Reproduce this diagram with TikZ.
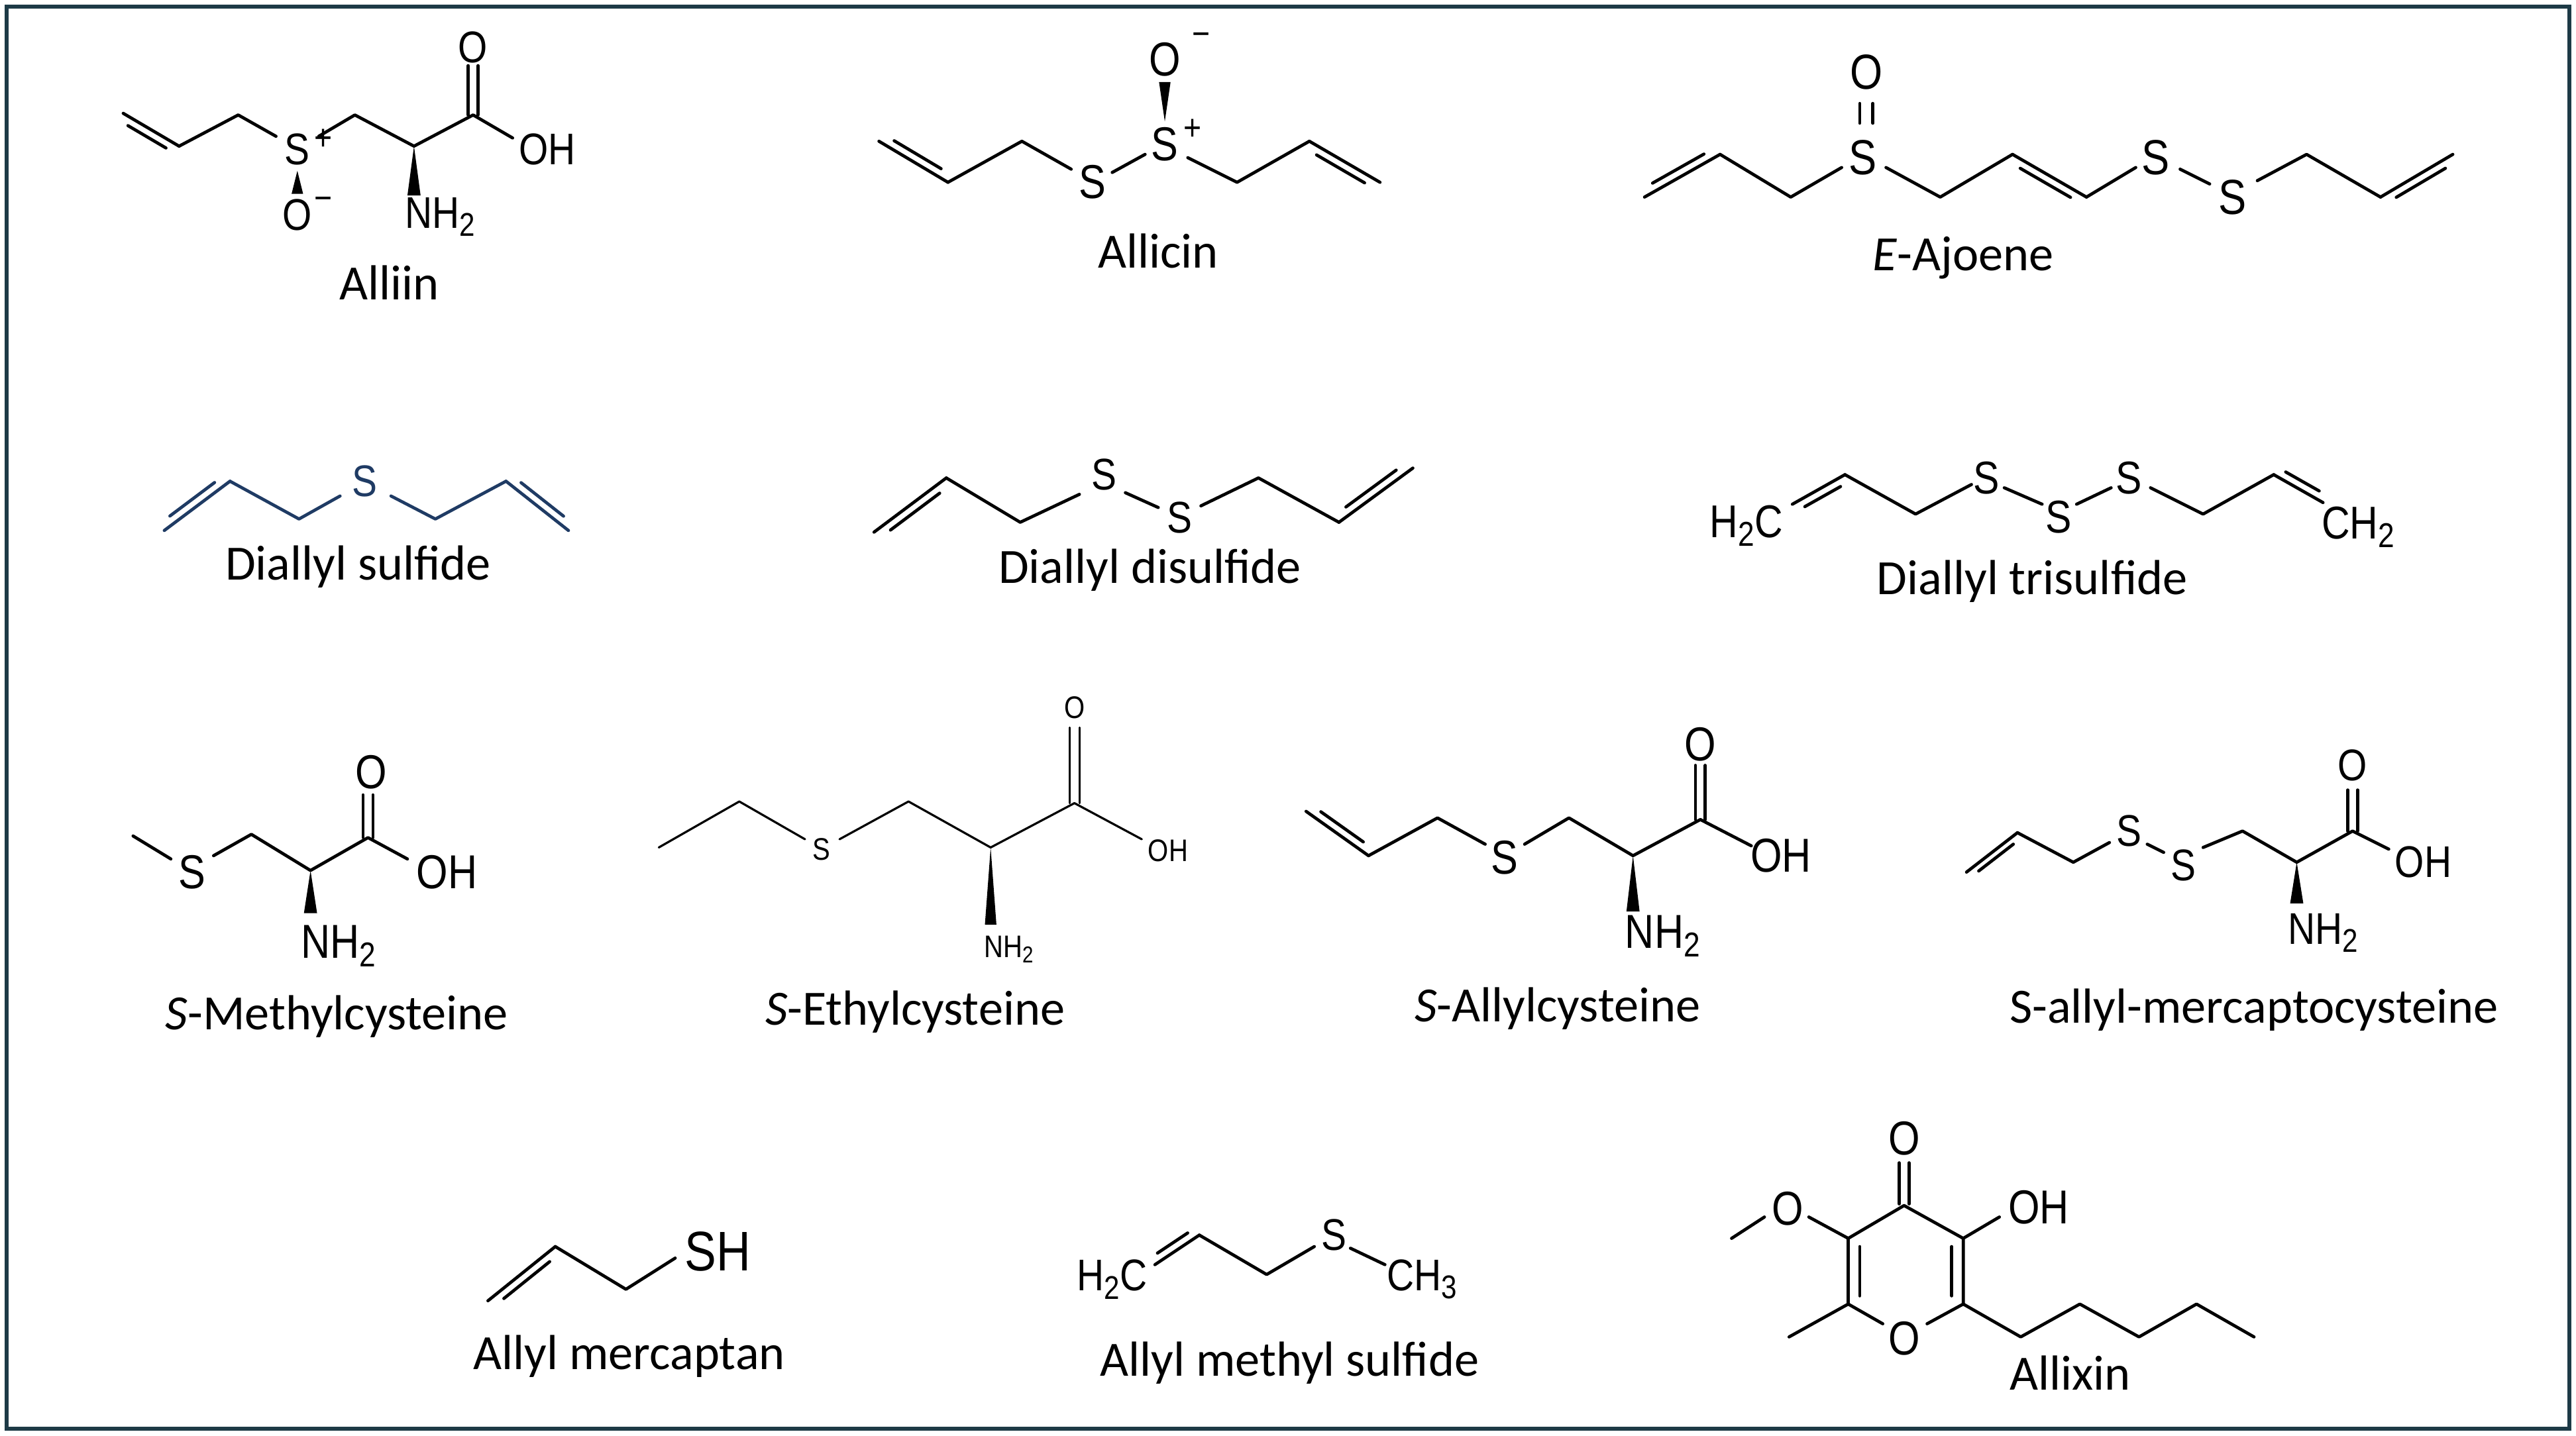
\documentclass[tikz,border=0pt]{standalone}
\usepackage{fontspec}
\setmainfont{Carlito}
\newfontfamily\atomf[FakeStretch=0.85]{Liberation Sans}
\usetikzlibrary{calc}
\definecolor{frame}{HTML}{1D3A46}
\definecolor{dsblue}{HTML}{1F3B64}
\newcommand\A[1]{\atomf\fontsize{#1}{#1}\selectfont}
\newcommand\dbl[3]{\draw[bond] #1 -- #2; \draw[bond] ($#1!0.16!#2!#3!90:#2$) -- ($#2!0.16!#1!#3!-90:#1$);}
\newcommand\wdg[4]{\fill (#1,#2) -- (#1-#4,#3) -- (#1+#4,#3) -- cycle;}
\begin{document}
\begin{tikzpicture}[x=1pt,y=-1pt,
  bond/.style={line width=1.9pt,line cap=round,line join=round},
  atom/.style={inner sep=0pt,anchor=center},
  lab/.style={inner sep=0pt,anchor=center,font=\fontsize{30}{30}\selectfont}]
\useasboundingbox (0,0) rectangle (1568,874);
\fill[white] (0,0) rectangle (1568,874);
\draw[frame,line width=2.5pt] (4,4) rectangle (1564,870);

% ---------- Alliin
\dbl{(75,69)}{(109,89)}{-5pt}
\draw[bond] (109,89) -- (145,70) -- (168,83);
\draw[bond] (194,83) -- (216,70) -- (252,89) -- (288,70) -- (312,84);
\draw[bond] (285,70) -- (285,40); \draw[bond] (291,70) -- (291,40);
\node[atom] (al-S) at (181,91) {\A{27}S};
\node[atom] (al-p) at (197,85) {\A{22}+};
\wdg{181}{104}{118}{3.5}
\node[atom] (al-O) at (181,131) {\A{27}O};
\node[atom] (al-m) at (197,124) {\A{22}−};
\node[atom] (al-O2) at (288,29) {\A{27}O};
\node[atom] (al-OH) at (333,91) {\A{27}OH};
\wdg{252}{89}{119}{4}
\node[atom] (al-N) at (268,132) {\A{27}NH\raisebox{-0.35ex}{\fontsize{20}{20}\selectfont 2}};
\node[lab] (l-alliin) at (237,172) {Alliin};

% ---------- Allicin
\dbl{(535,86)}{(577,111)}{5pt}
\draw[bond] (577,111) -- (622,86) -- (652,103);
\node[atom] (ac-S1) at (665,111) {\A{29}S};
\draw[bond] (677,105) -- (697,94);
\node[atom] (ac-S2) at (709,88) {\A{29}S};
\node[atom] (ac-p) at (726,79) {\A{22}+};
\wdg{709}{74}{50}{-3.5}
\node[atom] (ac-O) at (709,36) {\A{29}O};
\node[atom] (ac-m) at (731,24) {\A{22}−};
\draw[bond] (723,96) -- (753,111) -- (797,86);
\dbl{(797,86)}{(840,111)}{-5pt}
\node[lab] (l-allicin) at (705,153) {Allicin};

% ---------- E-Ajoene
\dbl{(1001,120)}{(1047,94)}{5pt}
\draw[bond] (1047,94) -- (1090,120) -- (1121,102);
\node[atom] (aj-S1) at (1134,96) {\A{30}S};
\draw[bond] (1132,63) -- (1132,75); \draw[bond] (1140,63) -- (1140,75);
\node[atom] (aj-O) at (1136,44) {\A{30}O};
\draw[bond] (1148,102) -- (1181,120) -- (1225,94);
\dbl{(1225,94)}{(1270,120)}{-5pt}
\draw[bond] (1270,120) -- (1300,102);
\node[atom] (aj-S2) at (1312,96) {\A{30}S};
\draw[bond] (1327,103) -- (1345,112);
\node[atom] (aj-S3) at (1359,120) {\A{30}S};
\draw[bond] (1374,110) -- (1404,94) -- (1449,120);
\dbl{(1449,120)}{(1493,94)}{-5pt}
\node[lab] (l-ajoene) at (1195,157) {\textit{E}-Ajoene};

% ---------- Diallyl sulfide (blue)
\begin{scope}[dsblue]
\dbl{(100,323)}{(140,293)}{5pt}
\draw[bond] (140,293) -- (182,316) -- (207,302);
\node[atom] (ds-S) at (222,293) {\A{27}S};
\draw[bond] (238,302) -- (265,316) -- (308,293);
\dbl{(308,293)}{(346,323)}{5pt}
\end{scope}
\node[lab] (l-ds) at (218,345) {Diallyl sulfide};

% ---------- Diallyl disulfide
\dbl{(532,324)}{(576,291)}{-5pt}
\draw[bond] (576,291) -- (621,318) -- (657,301);
\node[atom] (dd-S1) at (672,289) {\A{27}S};
\draw[bond] (685,300) -- (705,309);
\node[atom] (dd-S2) at (718,315) {\A{27}S};
\draw[bond] (731,308) -- (766,291) -- (815,318);
\dbl{(815,318)}{(860,285)}{5pt}
\node[lab] (l-dd) at (700,347) {Diallyl disulfide};

% ---------- Diallyl trisulfide
\node[atom] (dt-H2C) at (1063,320) {\A{28}H\raisebox{-0.35ex}{\fontsize{21}{21}\selectfont 2}C};
\dbl{(1091,307)}{(1123,289)}{-5pt}
\draw[bond] (1123,289) -- (1166,313) -- (1200,295);
\node[atom] (dt-S1) at (1209,291) {\A{28}S};
\draw[bond] (1220,297) -- (1243,307);
\node[atom] (dt-S2) at (1253,315) {\A{28}S};
\draw[bond] (1264,307) -- (1285,297);
\node[atom] (dt-S3) at (1296,291) {\A{28}S};
\draw[bond] (1309,297) -- (1341,313) -- (1384,289);
\dbl{(1384,289)}{(1414,306)}{5pt}
\node[atom,anchor=west] (dt-CH2) at (1413,321) {\A{28}CH\raisebox{-0.35ex}{\fontsize{21}{21}\selectfont 2}};
\node[lab] (l-dt) at (1237,354) {Diallyl trisulfide};

% ---------- S-Methylcysteine
\draw[bond] (81,509) -- (104,523);
\node[atom] (mc-S) at (117,531) {\A{29}S};
\draw[bond] (130,521) -- (153,508) -- (189,530) -- (224,510) -- (248,523);
\draw[bond] (221,510) -- (221,484); \draw[bond] (227,510) -- (227,484);
\node[atom] (mc-O) at (226,470) {\A{29}O};
\node[atom] (mc-OH) at (272,531) {\A{29}OH};
\wdg{189}{530}{556}{4}
\node[atom] (mc-N) at (206,576) {\A{29}NH\raisebox{-0.35ex}{\fontsize{21}{21}\selectfont 2}};
\node[lab] (l-mc) at (205,619) {\textit{S}-Methylcysteine};

% ---------- S-Ethylcysteine
\begin{scope}[bond/.append style={line width=1.3pt}]
\draw[bond] (401,516) -- (450,488) -- (490,511);
\node[atom] (ec-S) at (500,517) {\A{19}S};
\draw[bond] (511,511) -- (553,488) -- (603,516) -- (654,489) -- (695,511);
\draw[bond] (651,489) -- (651,443); \draw[bond] (657,489) -- (657,443);
\node[atom] (ec-O) at (654,431) {\A{19}O};
\node[atom] (ec-OH) at (711,518) {\A{19}OH};
\wdg{603}{516}{563}{3.5}
\node[atom] (ec-N) at (614,578) {\A{19}NH\raisebox{-0.35ex}{\fontsize{14}{14}\selectfont 2}};
\end{scope}
\node[lab] (l-ec) at (557,616) {\textit{S}-Ethylcysteine};

% ---------- S-Allylcysteine
\dbl{(795,494)}{(833,521)}{5pt}
\draw[bond] (833,521) -- (875,498) -- (904,514);
\node[atom] (sa-S) at (916,522) {\A{29}S};
\draw[bond] (928,514) -- (955,498) -- (994,521) -- (1035,499) -- (1066,515);
\draw[bond] (1032,499) -- (1032,466); \draw[bond] (1038,499) -- (1038,466);
\node[atom] (sa-O) at (1035,453) {\A{29}O};
\node[atom] (sa-OH) at (1084,521) {\A{29}OH};
\wdg{994}{521}{555}{4}
\node[atom] (sa-N) at (1012,570) {\A{29}NH\raisebox{-0.35ex}{\fontsize{21}{21}\selectfont 2}};
\node[lab] (l-sa) at (948,614) {\textit{S}-Allylcysteine};

% ---------- S-allyl-mercaptocysteine
\dbl{(1197,531)}{(1228,507)}{-4pt}
\draw[bond] (1228,507) -- (1262,525) -- (1284,513);
\node[atom] (sm-S1) at (1296,506) {\A{27}S};
\draw[bond] (1307,514) -- (1317,519);
\node[atom] (sm-S2) at (1329,527) {\A{27}S};
\draw[bond] (1341,516) -- (1365,506) -- (1398,525) -- (1432,506) -- (1454,517);
\draw[bond] (1429,506) -- (1429,481); \draw[bond] (1435,506) -- (1435,481);
\node[atom] (sm-O) at (1432,466) {\A{27}O};
\node[atom] (sm-OH) at (1475,525) {\A{27}OH};
\wdg{1398}{525}{550}{4}
\node[atom] (sm-N) at (1414,568) {\A{27}NH\raisebox{-0.35ex}{\fontsize{20}{20}\selectfont 2}};
\node[lab] (l-sm) at (1372,615) {S-allyl-mercaptocysteine};

% ---------- Allyl mercaptan
\dbl{(297,792)}{(338,759)}{-5pt}
\draw[bond] (338,759) -- (381,785) -- (411,766);
\node[atom] (am-SH) at (437,762) {\A{34}SH};
\node[lab] (l-am) at (383,826) {Allyl mercaptan};

% ---------- Allyl methyl sulfide
\node[atom] (ms-H2C) at (677,779) {\A{27}H\raisebox{-0.35ex}{\fontsize{20}{20}\selectfont 2}C};
\dbl{(703,770)}{(730,752)}{5pt}
\draw[bond] (730,752) -- (771,776) -- (800,759);
\node[atom] (ms-S) at (812,752) {\A{27}S};
\draw[bond] (822,760) -- (843,770);
\node[atom,anchor=west] (ms-CH3) at (844,779) {\A{27}CH\raisebox{-0.35ex}{\fontsize{20}{20}\selectfont 3}};
\node[lab] (l-ms) at (785,830) {Allyl methyl sulfide};

% ---------- Allixin
\draw[bond] (1156,708) -- (1156,733); \draw[bond] (1162,708) -- (1162,733);
\node[atom] (ax-O1) at (1159,693) {\A{29}O};
\draw[bond] (1101,741) -- (1125,754) -- (1159,734) -- (1195,754) -- (1217,741);
\draw[bond] (1125,754) -- (1125,794) -- (1146,806);
\draw[bond] (1195,754) -- (1195,794) -- (1173,806);
\draw[bond] (1132,759) -- (1132,789); \draw[bond] (1188,759) -- (1188,789);
\node[atom] (ax-O2) at (1159,815) {\A{29}O};
\node[atom] (ax-O3) at (1088,736) {\A{29}O};
\draw[bond] (1074,741) -- (1054,754);
\node[atom] (ax-OH) at (1241,735) {\A{29}OH};
\draw[bond] (1125,794) -- (1089,814);
\draw[bond] (1195,794) -- (1230,814) -- (1266,794) -- (1302,814) -- (1337,794) -- (1372,814);
\node[lab] (l-ax) at (1260,836) {Allixin};
\end{tikzpicture}
\end{document}
